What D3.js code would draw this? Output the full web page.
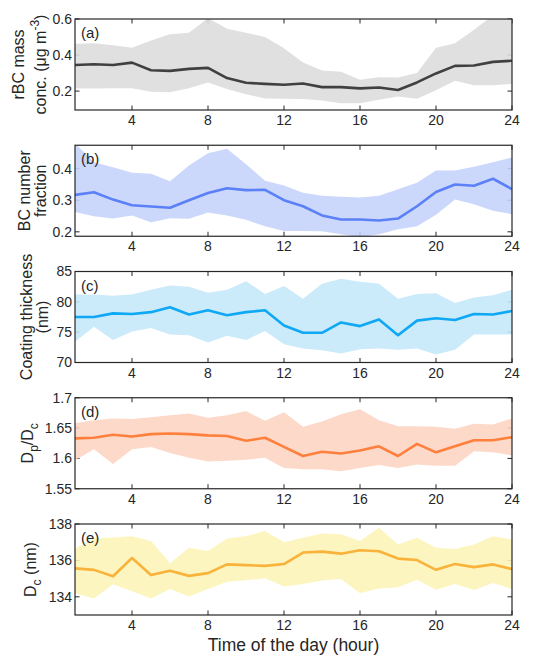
<!DOCTYPE html>
<html>
<head>
<meta charset="utf-8">
<script src="https://cdn.jsdelivr.net/npm/d3@7"></script>
<style>
  body { margin: 0; background: #fff; }
  svg { font-family: "Liberation Sans", Arial, sans-serif; }
</style>
</head>
<body>
<svg id="chart" width="543" height="657"></svg>
<script>
const hours = d3.range(1, 25);
const xTicks = [4, 8, 12, 16, 20, 24];

// (a) rBC mass concentration
const aMean  = [0.345,0.349,0.345,0.358,0.316,0.312,0.323,0.329,0.272,0.246,0.240,0.235,0.242,0.222,0.222,0.215,0.220,0.206,0.248,0.298,0.340,0.342,0.362,0.368];
const aUpper = [0.462,0.466,0.455,0.441,0.480,0.515,0.524,0.605,0.546,0.524,0.500,0.438,0.358,0.314,0.307,0.263,0.277,0.275,0.300,0.441,0.466,0.540,0.620,0.630];
const aLower = [0.215,0.215,0.216,0.216,0.196,0.194,0.216,0.248,0.211,0.183,0.159,0.158,0.156,0.148,0.132,0.132,0.152,0.170,0.158,0.204,0.257,0.233,0.233,0.240];

// (b) BC number fraction
const bMean  = [0.317,0.325,0.302,0.284,0.280,0.276,0.300,0.323,0.338,0.332,0.333,0.300,0.281,0.252,0.239,0.239,0.236,0.242,0.281,0.326,0.350,0.346,0.368,0.335];
const bUpper = [0.480,0.420,0.404,0.387,0.384,0.360,0.410,0.449,0.463,0.414,0.362,0.347,0.324,0.314,0.311,0.309,0.314,0.335,0.355,0.394,0.394,0.406,0.420,0.435];
const bLower = [0.263,0.249,0.242,0.252,0.230,0.243,0.241,0.261,0.252,0.238,0.218,0.203,0.203,0.202,0.192,0.184,0.192,0.208,0.218,0.254,0.302,0.287,0.267,0.256];

// (c) coating thickness
const cMean  = [77.5,77.5,78.1,78.0,78.3,79.1,77.9,78.6,77.8,78.3,78.6,76.1,74.9,74.9,76.6,76.0,77.1,74.5,76.9,77.3,77.0,78.0,77.9,78.5];
const cUpper = [81.2,81.2,81.0,81.2,82.0,82.7,82.5,81.5,82.0,83.4,81.3,82.6,80.5,83.0,83.8,83.3,83.0,80.5,81.3,81.4,79.8,80.7,81.1,82.0];
const cLower = [73.4,75.9,73.7,75.1,75.7,74.6,74.5,73.3,74.4,73.7,75.2,73.0,72.3,72.0,71.5,72.2,72.3,72.1,72.3,71.3,72.1,74.6,74.6,74.6];

// (d) Dp/Dc
const dMean  = [1.633,1.634,1.639,1.636,1.640,1.641,1.640,1.638,1.637,1.629,1.634,1.619,1.604,1.611,1.608,1.613,1.620,1.604,1.624,1.610,1.620,1.630,1.630,1.635];
const dUpper = [1.658,1.663,1.666,1.665,1.668,1.671,1.674,1.667,1.671,1.678,1.662,1.676,1.652,1.661,1.673,1.681,1.663,1.653,1.653,1.652,1.649,1.657,1.656,1.666];
const dLower = [1.597,1.615,1.591,1.615,1.619,1.609,1.601,1.595,1.596,1.598,1.601,1.584,1.582,1.582,1.579,1.584,1.589,1.584,1.590,1.588,1.588,1.612,1.610,1.605];

// (e) Dc
const eMean  = [135.56,135.48,135.13,136.13,135.20,135.43,135.15,135.30,135.78,135.74,135.70,135.80,136.43,136.48,136.37,136.56,136.50,136.10,136.02,135.48,135.80,135.63,135.78,135.52];
const eUpper = [136.65,137.20,137.26,137.33,137.07,135.85,136.70,136.52,137.20,137.33,137.61,137.00,137.24,137.48,137.44,137.06,137.80,136.87,137.24,136.69,136.63,136.87,137.33,137.15];
const eLower = [134.19,133.90,134.69,134.30,133.90,134.43,134.02,134.43,134.83,134.91,135.02,134.57,134.70,134.89,134.98,134.20,134.46,134.52,134.94,134.39,134.70,134.37,134.76,134.43];

const panels = [
  { tag: "(a)", mean: aMean, upper: aUpper, lower: aLower, domain: [0.095, 0.6], ticks: [0.2, 0.4, 0.6], fmt: d3.format(".1f"),
    line: "#404040", fill: "#dcdcdc" },
  { tag: "(b)", mean: bMean, upper: bUpper, lower: bLower, domain: [0.186, 0.474], ticks: [0.2, 0.3, 0.4], fmt: d3.format(".1f"),
    line: "#5b80f7", fill: "#c4d2fb" },
  { tag: "(c)", mean: cMean, upper: cUpper, lower: cLower, domain: [70, 85], ticks: [70, 75, 80, 85], fmt: d3.format("d"),
    line: "#0ea8f4", fill: "#c4e7f9" },
  { tag: "(d)", mean: dMean, upper: dUpper, lower: dLower, domain: [1.55, 1.7], ticks: [1.55, 1.6, 1.65, 1.7], fmt: d => d3.format(".2~f")(d),
    line: "#ff7f3c", fill: "#fdd4c1" },
  { tag: "(e)", mean: eMean, upper: eUpper, lower: eLower, domain: [133, 138], ticks: [134, 136, 138], fmt: d3.format("d"),
    line: "#f9b23a", fill: "#fdf4b6" }
];

const svg = d3.select("#chart");
const left = 75, right = 512, panelH = 91, step = 126.25, top0 = 19;
const tickLen = 4.5;
const x = d3.scaleLinear().domain([1, 24]).range([left, right]);

panels.forEach((p, i) => {
  const top = top0 + i * step, bottom = top + panelH;
  const y = d3.scaleLinear().domain(p.domain).range([bottom, top]);
  const g = svg.append("g");

  const clipId = "clip" + i;
  svg.append("clipPath").attr("id", clipId)
    .append("rect").attr("x", left).attr("y", top).attr("width", right - left).attr("height", panelH);

  // ticks (under the band, like MATLAB's bottom layer)
  const tg = g.append("g").attr("stroke", "#262626").attr("stroke-width", 1);
  xTicks.forEach(t => {
    tg.append("line").attr("x1", x(t)).attr("x2", x(t)).attr("y1", bottom).attr("y2", bottom - tickLen);
    tg.append("line").attr("x1", x(t)).attr("x2", x(t)).attr("y1", top).attr("y2", top + tickLen);
  });
  p.ticks.forEach(t => {
    tg.append("line").attr("x1", left).attr("x2", left + tickLen).attr("y1", y(t)).attr("y2", y(t));
    tg.append("line").attr("x1", right).attr("x2", right - tickLen).attr("y1", y(t)).attr("y2", y(t));
  });

  const plot = g.append("g").attr("clip-path", `url(#${clipId})`);
  const area = d3.area().x((d, j) => x(hours[j])).y0((d, j) => y(p.lower[j])).y1(d => y(d));
  plot.append("path").datum(p.upper).attr("d", area).attr("fill", p.fill).attr("fill-opacity", 0.88);

  const line = d3.line().x((d, j) => x(hours[j])).y(d => y(d));
  plot.append("path").datum(p.mean).attr("d", line)
    .attr("fill", "none").attr("stroke", p.line).attr("stroke-width", 2.6).attr("stroke-linejoin", "round");

  // box
  g.append("rect").attr("x", left).attr("y", top).attr("width", right - left).attr("height", panelH)
    .attr("fill", "none").attr("stroke", "#262626").attr("stroke-width", 1.2);

  // tick labels
  g.selectAll("text.xt").data(xTicks).join("text").attr("class", "xt")
    .attr("x", d => x(d)).attr("y", bottom + 15)
    .attr("text-anchor", "middle").attr("font-size", 14).attr("fill", "#262626")
    .text(d => d);
  g.selectAll("text.yt").data(p.ticks).join("text").attr("class", "yt")
    .attr("x", left - 3).attr("y", d => y(d)).attr("dy", "0.35em")
    .attr("text-anchor", "end").attr("font-size", 14).attr("fill", "#262626")
    .text(p.fmt);

  g.append("text").attr("x", left + 6).attr("y", top + 19)
    .attr("font-size", 15).attr("fill", "#262626").text(p.tag);

  p.cy = top + panelH / 2;
});

// y-axis titles
function yTitle(cx, cy) {
  return svg.append("text").attr("transform", `translate(${cx},${cy}) rotate(-90)`)
    .attr("text-anchor", "middle").attr("font-size", 16).attr("fill", "#262626");
}
yTitle(24, panels[0].cy).text("rBC mass");
const ta2 = yTitle(46, panels[0].cy);
ta2.append("tspan").text("conc. (μg m");
ta2.append("tspan").attr("font-size", 12).attr("dy", -7).text("-3");
ta2.append("tspan").attr("dy", 7).text(")");

yTitle(30, panels[1].cy).text("BC number");
yTitle(46, panels[1].cy).text("fraction");

yTitle(32, panels[2].cy).text("Coating thickness");
yTitle(48, panels[2].cy).text("(nm)");

const td = yTitle(33, panels[3].cy);
td.append("tspan").text("D");
td.append("tspan").attr("font-size", 12).attr("dy", 5).text("p");
td.append("tspan").attr("dy", -5).text("/D");
td.append("tspan").attr("font-size", 12).attr("dy", 5).text("c");

const te = yTitle(36, panels[4].cy);
te.append("tspan").text("D");
te.append("tspan").attr("font-size", 12).attr("dy", 5).text("c");
te.append("tspan").attr("dy", -5).text(" (nm)");

svg.append("text").attr("x", (left + right) / 2).attr("y", 651)
  .attr("text-anchor", "middle").attr("font-size", 17.5).attr("fill", "#262626")
  .text("Time of the day (hour)");
</script>
</body>
</html>
